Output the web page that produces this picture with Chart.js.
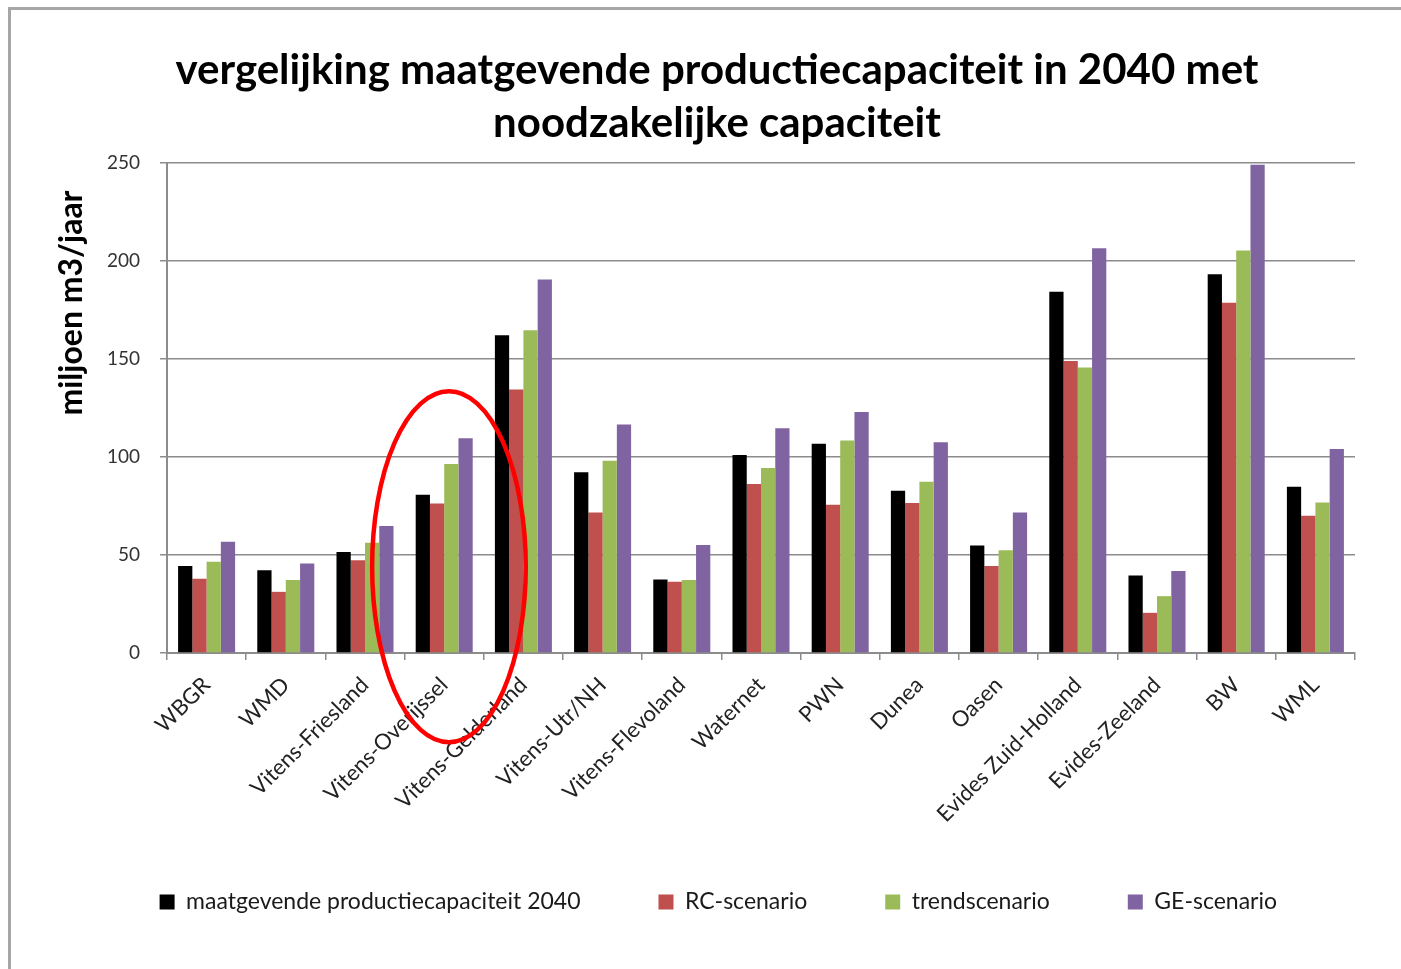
<!DOCTYPE html>
<html>
<head>
<meta charset="utf-8">
<script src="https://cdn.jsdelivr.net/npm/chart.js@4"></script>
<style>
  html, body { margin: 0; padding: 0; background: #fff; }
  #wrap { position: absolute; left: 0; top: 0; width: 1401px; height: 969px; }
  #frame { position: absolute; left: 8px; top: 7px; width: 1393px; height: 962px;
           border-top: 3px solid #a6a6a6; border-left: 3px solid #a6a6a6; pointer-events: none; }
</style>
</head>
<body>
<div id="frame"></div>
<div id="wrap"><canvas id="capChart"></canvas></div>
<script>
const categories = ['WBGR', 'WMD', 'Vitens-Friesland', 'Vitens-Overijssel', 'Vitens-Gelderland',
  'Vitens-Utr/NH', 'Vitens-Flevoland', 'Waternet', 'PWN', 'Dunea', 'Oasen',
  'Evides Zuid-Holland', 'Evides-Zeeland', 'BW', 'WML'];

const maatgevende = [44.4, 42.2, 51.5, 80.7, 162.1, 92.2, 37.5, 101.0, 106.7, 82.8, 54.9, 184.3, 39.6, 193.3, 84.8];
const rcScenario = [37.9, 31.2, 47.3, 76.3, 134.5, 71.7, 36.3, 86.2, 75.6, 76.5, 44.4, 149.0, 20.5, 178.7, 70.0];
const trendScenario = [46.6, 37.2, 56.3, 96.4, 164.7, 98.1, 37.3, 94.4, 108.4, 87.4, 52.4, 145.6, 29.0, 205.3, 76.8];
const geScenario = [56.7, 45.6, 64.8, 109.6, 190.6, 116.6, 55.1, 114.7, 122.9, 107.5, 71.7, 206.5, 41.8, 249.1, 104.1];

const yTicks = [0, 50, 100, 150, 200, 250];

const titleLines = ['vergelijking maatgevende productiecapaciteit in 2040 met', 'noodzakelijke capaciteit'];
const yTitle = 'miljoen m3/jaar';

const FONT = 'Lato, "Open Sans", sans-serif';
const GRID = '#8c8c8c';

// title, y-axis title and the red ellipse around Vitens-Overijssel
const extras = {
  id: 'extras',
  afterDraw(chart) {
    const {ctx, scales: {x, y}, chartArea} = chart;

    ctx.save();
    ctx.font = 'bold 42px ' + FONT;
    ctx.fillStyle = '#000';
    ctx.textAlign = 'center';
    ctx.textBaseline = 'middle';
    ctx.fillText(titleLines[0], 717, 70);
    ctx.fillText(titleLines[1], 717, 123);
    ctx.restore();

    ctx.save();
    ctx.translate(72, chartArea.top + 140);
    ctx.rotate(-Math.PI / 2);
    ctx.font = 'bold 32px ' + FONT;
    ctx.fillStyle = '#000';
    ctx.textAlign = 'center';
    ctx.textBaseline = 'middle';
    ctx.fillText(yTitle, 0, 0);
    ctx.restore();

    const catW = x.width / categories.length;
    const cx = x.getPixelForValue(3) + catW * 0.06;
    const cy = y.getPixelForValue(44);
    const ry = y.getPixelForValue(0) - y.getPixelForValue(89.5);
    ctx.save();
    ctx.strokeStyle = '#ff0000';
    ctx.lineWidth = 4.5;
    ctx.beginPath();
    ctx.ellipse(cx, cy, catW * 0.97, ry, 0, 0, Math.PI * 2);
    ctx.stroke();
    ctx.restore();
  }
};

const ctx = document.getElementById('capChart').getContext('2d');

const chart = new Chart(ctx, {
  type: 'bar',
  data: {
    labels: categories,
    datasets: [
      { label: 'maatgevende productiecapaciteit 2040', data: maatgevende, backgroundColor: '#000000' },
      { label: 'RC-scenario', data: rcScenario, backgroundColor: '#c0504d' },
      { label: 'trendscenario', data: trendScenario, backgroundColor: '#9bbb59' },
      { label: 'GE-scenario', data: geScenario, backgroundColor: '#8064a2' }
    ]
  },
  options: {
    animation: false,
    responsive: true,
    maintainAspectRatio: false,
    layout: { padding: { left: 0, right: 46, top: 163, bottom: 45.5 } },
    datasets: { bar: { categoryPercentage: 0.72, barPercentage: 1.0 } },
    plugins: {
      title: { display: false },
      legend: {
        position: 'bottom',
        align: 'end',
        // empty title with negative padding pulls the row up, so the wide
        // horizontal padding between items does not push it down
        title: { display: true, text: '', font: { size: 1 }, padding: { top: -33.7, bottom: 0 } },
        labels: {
          color: '#1a1a1a',
          font: { family: FONT, size: 23 },
          boxWidth: 15,
          boxHeight: 15,
          padding: 78
        }
      },
      tooltip: { enabled: false }
    },
    scales: {
      x: {
        afterFit: (s) => { s.height = 192; },
        grid: { display: true, drawOnChartArea: false, drawTicks: true, tickLength: 7, color: GRID, lineWidth: 1.5 },
        border: { color: GRID, width: 2 },
        ticks: {
          color: '#222',
          font: { family: FONT, size: 22 },
          padding: 12,
          minRotation: 45,
          maxRotation: 45,
          autoSkip: false
        }
      },
      y: {
        min: 0,
        max: 250,
        afterFit: (s) => { s.width = 167; },
        afterBuildTicks: (s) => { s.ticks = yTicks.map(v => ({ value: v })); },
        grid: { color: GRID, lineWidth: 1.5, tickLength: 7 },
        border: { color: GRID, width: 2 },
        ticks: { color: '#333', font: { family: FONT, size: 19 }, padding: 20 }
      }
    }
  },
  plugins: [extras]
});
</script>
</body>
</html>
